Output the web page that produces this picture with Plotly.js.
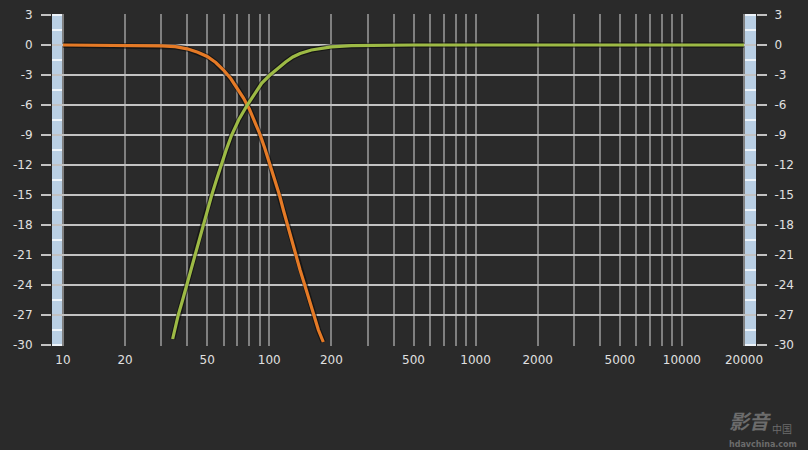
<!DOCTYPE html>
<html>
<head>
<meta charset="utf-8">
<script src="https://cdn.plot.ly/plotly-3.0.1.min.js"></script>
<style>html,body{margin:0;padding:0;background:#2a2a2a;}#chart{width:808px;height:450px;}</style>
</head>
<body>
<div id="chart"></div>
<script>
// ---- data ----
const lowFreq = [10, 20, 26, 30, 35, 40, 45, 50, 55, 60, 65, 70, 75, 80, 85, 90, 95, 101, 106, 112, 117, 122.5, 128, 134.7, 141, 148.5, 156, 163.8, 173, 182.7];
const lowDb   = [0, -0.02, -0.05, -0.08, -0.17, -0.38, -0.72, -1.15, -1.75, -2.5, -3.35, -4.3, -5.3, -6.4, -7.6, -8.9, -10.3, -12.0, -13.5, -15.0, -16.5, -18.0, -19.5, -21.0, -22.5, -24.0, -25.5, -27.0, -28.5, -29.7];

const highFreq = [34, 36.2, 38, 39.8, 41.5, 43.3, 45.4, 47.6, 50, 52.6, 55.4, 58.3, 61.8, 65.7, 71, 78.2, 85, 92, 100.8, 110, 120, 130, 141, 160, 180, 200, 250, 320, 500, 20000];
const highDb   = [-29.4, -27, -25.5, -24, -22.5, -21, -19.5, -18, -16.5, -15, -13.5, -12, -10.5, -9, -7.5, -6, -4.8, -3.8, -3.0, -2.3, -1.7, -1.2, -0.85, -0.5, -0.3, -0.18, -0.07, -0.02, 0, 0];

const gridFreqs = [10,20,30,40,50,60,70,80,90,100,200,300,400,500,600,700,800,900,1000,2000,3000,4000,5000,6000,7000,8000,9000,10000,20000];
const freqLabels = {10:'10',20:'20',50:'50',100:'100',200:'200',500:'500',1000:'1000',2000:'2000',5000:'5000',10000:'10000',20000:'20000'};
const dbTicks = [3,0,-3,-6,-9,-12,-15,-18,-21,-24,-27,-30];
const stripMarks = [];
for (let v = -30; v <= 3; v += 1.5) stripMarks.push(v);

// ---- styling ----
const bg = '#2a2a2a';
const hGrid = '#c2c2c2';
const vGrid = '#808080';
const txt = '#e0e0e0';
const orange = '#e57a26';
const green = '#9dba45';
const stripCol = '#b9cfe4';

const shadow = (x, y) => ({x, y, mode:'lines', line:{color:'rgba(10,10,10,0.6)', width:5.5}, hoverinfo:'skip', showlegend:false});

const traces = [
  shadow(lowFreq, lowDb),
  shadow(highFreq, highDb),
  {x: lowFreq, y: lowDb, mode:'lines', line:{color:orange, width:3.2}, showlegend:false},
  {x: highFreq, y: highDb, mode:'lines', line:{color:green, width:3.2}, showlegend:false},
  {x: highFreq, y: highDb, yaxis:'y2', mode:'lines', line:{color:'rgba(0,0,0,0)', width:0}, hoverinfo:'skip', showlegend:false}
];

const shapes = [
  {type:'rect', xref:'paper', yref:'paper', x0:0, x1:12/704, y0:0, y1:1, fillcolor:stripCol, line:{width:0}, layer:'between'},
  {type:'rect', xref:'paper', yref:'paper', x0:692/704, x1:1, y0:0, y1:1, fillcolor:stripCol, line:{width:0}, layer:'between'}
];
stripMarks.forEach(v => {
  shapes.push({type:'line', xref:'paper', yref:'y', x0:0, x1:12/704, y0:v, y1:v, line:{color:'#eef4fa', width:2}, layer:'between'});
  shapes.push({type:'line', xref:'paper', yref:'y', x0:692/704, x1:1, y0:v, y1:v, line:{color:'#eef4fa', width:2}, layer:'between'});
});

const font = {family:'DejaVu Sans, Verdana, sans-serif', size:12, color:txt};

const layout = {
  width:808, height:450,
  margin:{l:52, r:52, t:14, b:104},
  paper_bgcolor:bg, plot_bgcolor:bg,
  showlegend:false,
  font: font,
  xaxis:{
    type:'log', range:[0.94668, 4.3592],
    tickmode:'array', tickvals:gridFreqs, ticktext:gridFreqs.map(f => freqLabels[f] || ''),
    showgrid:true, gridcolor:vGrid, gridwidth:2,
    zeroline:false, showline:false, ticks:'', tickfont:font, ticklabelstandoff:5, fixedrange:true
  },
  yaxis:{
    range:[-30.1, 3.1], tickmode:'array', tickvals:dbTicks, ticktext:dbTicks.map(String),
    showgrid:true, gridcolor:hGrid, gridwidth:2,
    zeroline:false, showline:false,
    ticks:'outside', ticklen:10, tickwidth:2, tickcolor:hGrid,
    tickfont:font, ticklabelstandoff:6, fixedrange:true
  },
  yaxis2:{
    overlaying:'y', side:'right',
    range:[-30.1, 3.1], tickmode:'array', tickvals:dbTicks, ticktext:dbTicks.map(String),
    showgrid:false, zeroline:false, showline:false,
    ticks:'outside', ticklen:10, tickwidth:2, tickcolor:hGrid,
    tickfont:font, ticklabelstandoff:5, fixedrange:true
  },
  shapes: shapes,
  annotations:[
    {xref:'paper', yref:'paper', x:(727-52)/704, y:(346-437)/332, xanchor:'left', yanchor:'bottom', text:'<i><b>影音</b></i>', showarrow:false,
     font:{family:'Noto Sans CJK SC', size:20, color:'#6c6c6c'}},
    {xref:'paper', yref:'paper', x:(770-52)/704, y:(346-438)/332, xanchor:'left', yanchor:'bottom', text:'中国', showarrow:false,
     font:{family:'Noto Sans CJK SC', size:10, color:'#6c6c6c'}},
    {xref:'paper', yref:'paper', x:(763-52)/704, y:(346-444)/332, xanchor:'center', yanchor:'middle', text:'<b>hdavchina.com</b>', showarrow:false,
     font:{family:'DejaVu Sans', size:8, color:'#6c6c6c'}}
  ]
};

Plotly.newPlot('chart', traces, layout, {displayModeBar:false, staticPlot:true});
</script>
</body>
</html>
